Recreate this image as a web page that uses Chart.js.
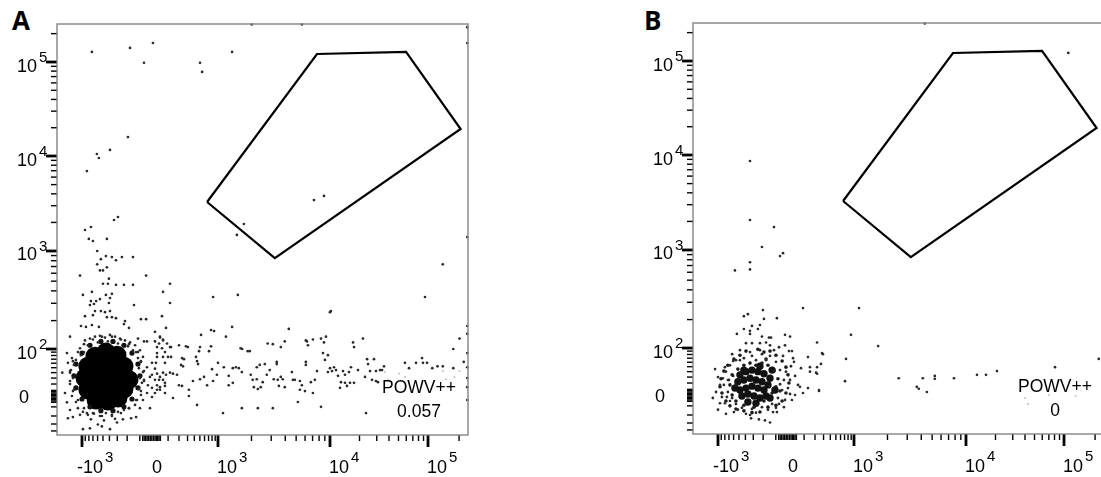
<!DOCTYPE html>
<html>
<head>
<meta charset="utf-8">
<script src="https://cdn.jsdelivr.net/npm/chart.js@4.4.1/dist/chart.umd.min.js"></script>
<style>
  body { margin: 0; background: #fff; width: 1101px; height: 477px; overflow: hidden; position: relative; }
  canvas { position: absolute; }
  #plotA { left: 0; top: 0; }
  #plotB { left: 636px; top: -1px; }
  .letter { position: absolute; top: 7px; font: bold 26px "Open Sans", sans-serif; line-height: 26px; }
</style>
</head>
<body>
<div class="letter" style="left:12px">A</div>
<div class="letter" style="left:644px">B</div>
<canvas id="plotA" width="480" height="477"></canvas>
<canvas id="plotB" width="480" height="477"></canvas>
<script>
// biexponential axes: value -> fraction of the axis
const X_ANCHORS = [[-2224, 0], [-1000, 0.0608], [0, 0.2384], [1000, 0.3917], [10000, 0.6642], [100000, 0.9027], [244000, 1]];
const Y_ANCHORS = [[-70, 0], [0, 0.0925], [100, 0.2092], [1000, 0.4477], [10000, 0.6788], [100000, 0.9075], [253000, 1]];
const X_WIDTH = 200;
const Y_WIDTH = 50;

const xMajor = [-1000, 1000, 10000, 100000];
const xMinor = [-900, -800, -700, -600, -500, -400, -300, -200, -100, -80, -70, -60, -50, -40, -30, -20, -10, 0, 10, 20, 30, 40,
  100, 200, 300, 400, 500, 600, 700, 800, 900, 2000, 3000, 4000, 5000, 6000, 7000, 8000, 9000,
  20000, 30000, 40000, 50000, 60000, 70000, 80000, 90000, 200000];
const yMajor = [100, 1000, 10000, 100000];
const yMinor = [-60, -45, -30, -15, -8, -6, -4, -2, 0, 2, 4, 6, 8, 10, 20, 30, 40, 50, 60, 70, 80, 90,
  200, 300, 400, 500, 600, 700, 800, 900, 2000, 3000, 4000, 5000, 6000, 7000, 8000, 9000,
  20000, 30000, 40000, 50000, 60000, 70000, 80000, 90000, 200000];
const xLabels = [-1000, 0, 1000, 10000, 100000];
const yLabels = [0, 100, 1000, 10000, 100000];

const gateName = 'POWV++';
const gateFreqA = '0.057';
const gateFreqB = '0';
const gate = [[662, 3280], [7660, 121700], [59700, 127800], [207000, 19370], [3230, 849], [662, 3280]];

// panel A
const aCore = [[-452, 90], [-654, 78], [-303, 81], [-826, 53], [-554, 53], [-366, 53], [-230, 53], [-908, 30], [-608, 30],
  [-407, 30], [-260, 30], [-184, 27], [-826, 11], [-554, 11], [-366, 11], [-230, 12], [-630, -4.5], [-422, -6], [-292, -1.5]];

const aEdge = [[-99, 34], [-113, 58], [-159, 87], [-230, 110], [-352, 121], [-537, 121], [-772, 110], [-1000, 87], [-1215, 58],
  [-1295, 34], [-1215, 14], [-1000, -3], [-772, -15], [-537, -21], [-352, -21], [-230, -15], [-159, -3], [-113, 14]];

const aHalo = [[-1620, 87], [-1570, 61], [-1470, 40], [-1880, 40], [-1726, 6], [-1620, -8], [-1470, -20], [-1570, -34], [-1340, -32],
  [-1066, -28], [-853, -25], [-970, -56], [-772, -54], [-594, -46], [-519, -50], [-392, -56], [-303, -42], [-240, -36], [-166, -34],
  [-127, -32], [-99, -17], [-78, -4.5], [-51, 6], [-45, 18], [-32, 32], [-51, 51], [-78, 76], [-99, 96],
  [-908, 124], [-772, 130], [-654, 136], [-554, 139], [-467, 133], [-392, 142], [-326, 136], [-270, 130], [-220, 124], [-175, 118],
  [-135, 110], [-826, 110], [-594, 118], [-422, 121], [-292, 115], [-193, 107], [-1066, 102], [-938, 90], [-151, 96], [-113, 90],
  [-1380, 73], [-1295, 56], [-1425, 45], [-1337, 30], [-1470, 20], [-1295, 11], [-1380, 1.5], [-1215, -7.5], [-1140, -17], [-1034, 81], [-1215, 68],
  [-113, 73], [-92, 63], [-106, 49], [-78, 41], [-99, 30], [-85, 22], [-106, 12], [-92, 3], [-120, -4.5], [-135, -12], [-71, 27],
  [-970, -23], [-826, -28], [-677, -26], [-554, -30], [-452, -25], [-366, -28], [-292, -23], [-230, -20], [-184, -17], [-748, -36], [-484, -38], [-326, -35],
  [-71, 43], [-92, 65], [-127, 90], [-184, 113], [-260, 127], [-366, 136], [-519, 136], [-700, 127], [-938, 113], [-1140, 90],
  [-1337, 65], [-1470, 43], [-1470, 25], [-1337, 9], [-1140, -4.5], [-938, -17], [-700, -25], [-519, -30], [-366, -30], [-260, -25],
  [-184, -17], [-127, -4.5], [-92, 9], [-71, 25]];

const aEvents = [[-725, 128000], [-175, 141000], [-13, 159000], [-71, 98000], [503, 98000], [546, 78400], [1340, 128000], [2010, 250000],
  [5630, 250000], [240000, 234000], [240000, 159000],
  [-193, 15900], [-392, 11600], [-614, 10500], [-574, 9530], [-853, 6950], [7200, 3440], [8840, 3800], [1710, 1925], [1480, 1475],
  [-292, 2280], [-339, 2120], [-908, 1665], [-748, 1790], [-800, 1340], [-437, 1340], [240000, 1400], [-700, 1275],
  [-608, 1000], [-452, 890], [-366, 870], [-250, 870], [-151, 870], [-537, 828], [-608, 736], [-315, 809], [-437, 687], [-554, 640], [-500, 640],
  [-1066, 569], [-57, 569], [-407, 530], [-500, 471], [-422, 471], [-315, 460], [-230, 460], [-151, 460], [116, 471], [60, 391],
  [-970, 364], [-725, 391], [-452, 364], [-366, 373], [-748, 316], [-630, 316], [-554, 331], [-772, 288], [-677, 295], [-392, 339],
  [-407, 302], [-143, 288], [116, 302], [832, 347],
  [-654, 250], [-537, 250], [-467, 244], [-392, 250], [-700, 227], [-908, 222], [-437, 217], [-366, 217], [-220, 198], [-315, 212],
  [-92, 207], [-57, 207], [52, 222],
  [-1034, 176], [-880, 172], [-725, 180], [-574, 172], [-230, 184], [-184, 168], [83, 168], [770, 160], [863, 156],
  [-1470, 136], [0, 153], [524, 142], [37, 133], [60, 127], [-113, 130], [-71, 121], [-51, 121], [116, 105], [280, 107], [503, 105], [770, 107],
  [1340, 172], [1180, 136], [4300, 164], [6240, 121], [0, 121], [37, 136], [30, 115], [15, 105], [52, 102], [91, 115], [125, 105], [200, 110], [305, 105],
  [713, 93], [484, 93], [1600, 102], [1650, 100], [1850, 93], [1930, 93], [2790, 115], [3100, 113], [3960, 121], [3650, 105],
  [15, 87], [75, 90], [15, 76], [-19, 61], [7, 61], [0, 48], [60, 76], [99, 76], [125, 76], [233, 73], [255, 70], [428, 76], [447, 65],
  [465, 58], [222, 56], [244, 53],
  [1000, 61], [800, 47], [1130, 51], [1360, 49], [1450, 51], [1540, 49], [1640, 41], [2370, 56], [2630, 58], [2230, 51], [3360, 63],
  [3360, 58], [2910, 45], [4580, 41], [4870, 27], [6100, 63],
  [-19, 36], [15, 38], [37, 32], [60, 40], [83, 36], [116, 40], [142, 38], [180, 36], [0, 27], [30, 27], [60, 27], [75, 22], [15, 18],
  [37, 15], [75, 17], [200, 18], [233, 17],
  [378, 25], [503, 28], [588, 32], [662, 18], [832, 25], [960, 36], [1250, 34], [1360, 22], [1250, 18], [1970, 36], [2050, 27],
  [2230, 28], [2100, 15], [2280, 12], [2420, 15], [2520, 23], [2740, 36],
  [3160, 28], [3430, 27], [3650, 32], [3800, 28], [3510, 17], [3960, 15], [4680, 27], [5400, 25], [5620, 18], [5400, 11], [5990, 9],
  [-19, 14], [15, 11], [75, 6], [-19, 0], [142, -1.5], [318, 11], [318, 1.5], [447, -12], [1640, -17], [2280, -17], [3100, -17],
  [1110, -25], [-32, -17], [5180, -7.5],
  [10230, 250], [6100, 124], [6370, 110], [7050, 127], [8320, 130], [9210, 136], [8840, 118], [17200, 118], [17600, 105], [21700, 130],
  [8660, 87], [9020, 68], [9590, 81],
  [6100, 56], [7660, 43], [6760, 23], [7340, 27], [10000, 49], [9590, 41], [10480, 43], [10990, 51], [11510, 45], [12070, 34],
  [13580, 43], [14230, 36], [15630, 41], [16370, 51],
  [12950, 23], [14230, 22], [16000, 22], [17580, 22], [14900, 17], [12650, 14], [19300, 45], [23900, 70], [28100, 70], [24440, 58],
  [25600, 43], [29440, 43], [32400, 45],
  [22760, 32], [26830, 27], [29440, 25], [30880, 23], [35560, 53], [33950, 45], [58200, 61], [64000, 49], [75500, 61], [86900, 73],
  [88900, 61], [97700, 61], [110000, 49], [123700, 53], [139000, 53],
  [175800, 100], [202000, 130], [222000, 63], [175800, 49], [8320, -15], [23300, -25], [7050, 6],
  [240000, 146], [240000, 87], [240000, 51], [240000, 30], [240000, 15], [240000, -4.5], [139000, 736], [93200, 347], [10000, 244],
  [1510, 364], [240000, 176], [60, 124], [75, 61], [37, 11], [0, 6]];

const aFaint = [[36400, 41], [39100, 27], [50600, 38], [58200, 32], [139000, 43], [149000, 28], [202000, 43], [180000, 32]];

// panel B
const bCore = [[-484, 34], [-392, 40], [-315, 43], [-250, 40], [-193, 36], [-143, 28], [-519, 22], [-422, 25], [-339, 28], [-270, 25],
  [-211, 22], [-159, 17], [-484, 9], [-392, 12], [-315, 15], [-250, 12], [-193, 9], [-452, 0], [-366, 3], [-292, 0], [-230, -3],
  [-175, 0], [-366, -9], [-270, -11], [-422, 43], [-230, 51], [-127, 43], [-574, 12], [-106, 9], [-143, -3]];

const bDense = [[-594, 68], [-484, 78], [-392, 90], [-250, 96], [-193, 87], [-143, 90], [-99, 78], [-57, 63], [-32, 49], [-19, 34],
  [-13, 20], [-32, 4.5], [-57, -7.5], [-99, -14], [-159, -17], [-230, -25], [-315, -26], [-422, -23], [-554, -20], [-677, -15],
  [-772, -7.5], [-880, 4.5], [-938, 14], [-908, 27], [-826, 41], [-725, 53],
  [-519, 45], [-422, 53], [-339, 58], [-270, 53], [-211, 58], [-159, 53], [-113, 41], [-85, 27], [-99, 14], [-127, 4.5], [-193, -7.5],
  [-292, -17], [-422, -14], [-554, -7.5], [-630, 1.5], [-677, 17], [-630, 34], [-554, 17], [-71, 7.5], [-175, 68]];

const bRing = [[-677, 53], [-772, 40], [-826, 17], [-725, 6], [-630, -3], [-554, -12], [-452, -18], [-315, -20], [-211, -17], [-127, -12],
  [-85, -3], [-57, 9], [-45, 25], [-71, 43], [-99, 61], [-143, 76], [-211, 81], [-315, 76], [-422, 70], [-554, 65], [-32, 40], [-6, 25],
  [-19, 12], [-71, 18], [-608, 32], [-700, 25], [-748, -1.5], [-519, -21], [-159, -21], [-99, -18], [-270, 65], [-175, 65], [-113, 93],
  [-51, 76], [-78, 102], [-38, 107], [-143, 107], [-230, 93], [-339, 87], [-484, 93], [-630, 81], [-938, 17], [-1066, 6], [-880, -1.5],
  [-1180, -3], [-1000, -21], [0, 51], [30, 32], [52, 17], [-6, 3], [-38, -6], [-78, -12]];

const bEvents = [[-202, 250], [91, 262], [-422, 217], [-366, 227], [-193, 203], [-92, 207], [-315, 172], [-230, 176], [-537, 142],
  [-339, 153], [-339, 142], [-211, 133], [-151, 130], [-135, 130], [-38, 139], [-6, 133], [222, 115], [894, 139],
  [-392, 113], [-315, 113], [-230, 113], [-175, 115], [-13, 90], [7, 90], [280, 84], [740, 68], [133, 73], [15, 70], [22, 61],
  [-1100, 45], [-799, 49], [-608, 63], [-484, 65], [75, 47], [151, 49], [222, 49], [267, 56],
  [-1000, 30], [-853, 28], [-725, 25], [151, 40], [222, 36], [67, 14], [133, 12], [244, 9], [713, 23], [-938, -11], [-799, -11],
  [-677, -7.5], [-772, -28], [-594, -25], [-392, -28], [-339, -30], [-270, -26], [-240, -38], [-184, -40], [-143, -44], [-326, -36],
  [-120, -25], [-92, -25], [-45, -17], [30, 1.5], [7, -6],
  [1110, 262], [1650, 105], [2520, 28], [4130, 28], [5280, 32], [5280, 27], [7820, 28], [3650, 14], [3800, 11], [4490, 6],
  [12950, 34], [16000, 34], [20700, 41], [80900, 49], [217000, 68],
  [4300, 250000], [110000, 121700], [-339, 8650], [-339, 2070], [-113, 1745], [-211, 1075], [-71, 870], [-51, 930], [-339, 755],
  [-339, 640], [-574, 625], [292, 81], [211, 38], [244, 7.5], [91, 4.5], [-422, 160], [-250, 160]];

const bFaint = [[40000, -3], [42900, -12], [70300, 1.5], [129500, 0]];

class BiexScale extends Chart.Scale {
  anchors() { return this.axis === 'x' ? X_ANCHORS : Y_ANCHORS; }
  determineDataLimits() {
    const a = this.anchors();
    this.min = a[0][0];
    this.max = a[a.length - 1][0];
  }
  buildTicks() { return []; }
  getLabelForValue(v) { return String(v); }
  toDecimal(v) {
    const a = this.anchors();
    const w = this.axis === 'x' ? X_WIDTH : Y_WIDTH;
    const t = u => Math.asinh(u / w);
    let i = 1;
    while (i < a.length - 1 && v > a[i][0]) i++;
    const t0 = t(a[i - 1][0]), t1 = t(a[i][0]);
    return a[i - 1][1] + (t(v) - t0) / (t1 - t0) * (a[i][1] - a[i - 1][1]);
  }
  getPixelForValue(v) { return this.getPixelForDecimal(this.toDecimal(v)); }
  getValueForPixel() { return 0; }
}
BiexScale.id = 'biex';
BiexScale.defaults = {};
Chart.register(BiexScale);

const decor = {
  id: 'decor',
  afterDraw(chart, args, opts) {
    const { ctx, chartArea: a } = chart;
    const x = chart.scales.x, y = chart.scales.y;
    ctx.save();
    ctx.strokeStyle = '#8c8c8c';
    ctx.lineWidth = 1.5;
    ctx.strokeRect(a.left, a.top, a.right - a.left, a.bottom - a.top);

    ctx.strokeStyle = '#000';
    const xt = (vals, len, w) => {
      ctx.lineWidth = w;
      vals.forEach(v => {
        const p = x.getPixelForValue(v);
        ctx.beginPath(); ctx.moveTo(p, a.bottom + 0.5); ctx.lineTo(p, a.bottom + len); ctx.stroke();
      });
    };
    const yt = (vals, len, w) => {
      ctx.lineWidth = w;
      vals.forEach(v => {
        const p = y.getPixelForValue(v);
        ctx.beginPath(); ctx.moveTo(a.left - 0.5, p); ctx.lineTo(a.left - len, p); ctx.stroke();
      });
    };
    xt(xMinor, 6, 1.4); xt(xMajor, 12, 2.8);
    yt(yMinor, 6, 1.4); yt(yMajor, 11, 2.8);

    ctx.fillStyle = '#000';
    const base = '18px "Liberation Sans", Arial, sans-serif';
    const sup = '15px "Liberation Sans", Arial, sans-serif';
    xLabels.forEach(v => {
      const p = x.getPixelForValue(v);
      ctx.font = base;
      if (v === 0) {
        ctx.textAlign = 'center';
        ctx.fillText('0', p + 2, a.bottom + 38);
        return;
      }
      ctx.textAlign = 'left';
      const txt = (v < 0 ? '-' : '') + '10';
      const start = v < 0 ? p - 5 : p - 1;
      ctx.fillText(txt, start, a.bottom + 38);
      const wd = ctx.measureText(txt).width;
      ctx.font = sup;
      ctx.fillText(String(Math.round(Math.log10(Math.abs(v)))), start + wd + 2, a.bottom + 27);
    });
    yLabels.forEach(v => {
      const p = y.getPixelForValue(v);
      ctx.font = base;
      if (v === 0) {
        ctx.textAlign = 'center';
        ctx.fillText('0', a.left - 33, p + 6);
        return;
      }
      ctx.textAlign = 'right';
      ctx.fillText('10', a.left - 20, p + 9.5);
      ctx.textAlign = 'left';
      ctx.font = sup;
      ctx.fillText(String(Math.round(Math.log10(v))), a.left - 18, p);
    });

    ctx.font = '17.5px "Liberation Sans", Arial, sans-serif';
    ctx.textAlign = 'center';
    ctx.fillText(gateName, a.left + 362, a.top + 369);
    ctx.fillText(opts.freq, a.left + 362, a.top + 393);
    ctx.restore();
  }
};

const pts = arr => arr.map(([x, y]) => ({ x, y }));
const dots = (arr, r, color) => ({ data: pts(arr), pointRadius: r, pointBackgroundColor: color, pointBorderWidth: 0, showLine: false });

function plot(id, sets, freq) {
  new Chart(document.getElementById(id), {
    type: 'scatter',
    data: {
      datasets: [
        { data: pts(gate), showLine: true, borderColor: '#000', borderWidth: 2.2, pointRadius: 0, fill: false },
        ...sets
      ]
    },
    options: {
      responsive: false,
      animation: false,
      events: [],
      layout: { padding: { left: 57, top: 24, right: 12, bottom: 42 } },
      scales: {
        x: { type: 'biex', position: 'bottom', display: false, ticks: { display: false } },
        y: { type: 'biex', position: 'left', display: false, ticks: { display: false } }
      },
      plugins: { legend: { display: false }, tooltip: { enabled: false }, decor: { freq } }
    },
    plugins: [decor]
  });
}

plot('plotA', [
  dots(aFaint, 1.1, '#c8c8c8'),
  dots(aEvents, 1.35, '#2a2a2a'),
  dots(aHalo, 1.35, '#2a2a2a'),
  dots(aEdge, 2.6, '#111'),
  dots(aCore, 9.5, '#000')
], gateFreqA);

plot('plotB', [
  dots(bFaint, 1.1, '#c8c8c8'),
  dots(bEvents, 1.35, '#2a2a2a'),
  dots(bRing, 1.4, '#2a2a2a'),
  dots(bDense, 1.8, '#1a1a1a'),
  dots(bCore, 3.7, '#111')
], gateFreqB);
</script>
</body>
</html>
